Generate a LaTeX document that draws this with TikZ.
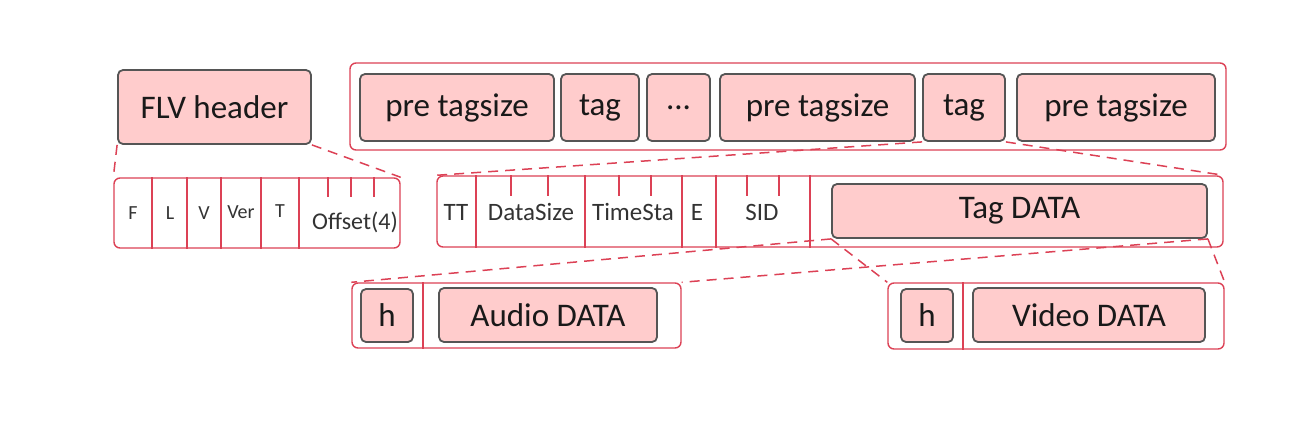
\documentclass[tikz,border=0pt]{standalone}
\usepackage{fontspec}
\setmainfont{Carlito}
\usepackage{tikz}

\definecolor{boxpink}{RGB}{255,204,204}
\definecolor{boxgray}{RGB}{85,85,85}
\definecolor{linered}{RGB}{220,65,85}

\tikzset{
  databox/.style={draw=boxgray, fill=boxpink, line width=1.8pt, rounded corners=5pt,
    inner sep=0pt, text=black!90, font=\fontsize{33}{36}\selectfont},
  frame/.style={draw=linered, line width=1.4pt, rounded corners=6pt, inner sep=0pt},
  sep/.style={linered, line width=1.4pt},
  zoomline/.style={linered, line width=1.5pt, dash pattern=on 10pt off 7pt},
  small/.style={inner sep=0pt, text=black!80, font=\fontsize{20}{24}\selectfont},
  field/.style={inner sep=0pt, text=black!80, font=\fontsize{25}{28}\selectfont}
}

\begin{document}
\begin{tikzpicture}[x=1pt,y=-1pt]
\useasboundingbox (0,0) rectangle (1309,424);

% file header
\node [databox, minimum width=193pt, minimum height=74pt] (flv) at (214.5,107) {FLV header};
\node [frame, minimum width=286pt, minimum height=70pt] (hdr) at (257,213) {};
\draw [sep] (hdr.north -| 152,0) -- (hdr.south -| 152,0);
\draw [sep] (hdr.north -| 187,0) -- (hdr.south -| 187,0);
\draw [sep] (hdr.north -| 221,0) -- (hdr.south -| 221,0);
\draw [sep] (hdr.north -| 261,0) -- (hdr.south -| 261,0);
\draw [sep] (hdr.north -| 299,0) -- (hdr.south -| 299,0);
\draw [sep] (hdr.north -| 328,0) -- (328,197);
\draw [sep] (hdr.north -| 351,0) -- (351,197);
\draw [sep] (hdr.north -| 374,0) -- (374,197);
\node [small] (hF) at (133,213) {F};
\node [small] (hL) at (170,213) {L};
\node [small] (hV) at (204,213) {V};
\node [small] (hVer) at (241,212) {Ver};
\node [small] (hT) at (280,211) {T};
\node [field, font=\fontsize{24}{28}\selectfont] (hOff) at (355,222) {Offset(4)};

% file body
\node [frame, minimum width=876pt, minimum height=87pt] (body) at (788,106.5) {};
\node [databox, minimum width=194pt, minimum height=67pt] (pre1) at (457,107.5) {pre tagsize};
\node [databox, minimum width=78pt, minimum height=67pt] (tag1) at (600,107.5) {tag};
\node [databox, minimum width=63pt, minimum height=67pt] (dots) at (678.5,107.5) {...};
\node [databox, minimum width=195pt, minimum height=67pt] (pre2) at (817.5,107.5) {pre tagsize};
\node [databox, minimum width=82pt, minimum height=67pt] (tag2) at (964,107.5) {tag};
\node [databox, minimum width=198pt, minimum height=67pt] (pre3) at (1116,107.5) {pre tagsize};

% tag
\node [frame, minimum width=786pt, minimum height=71pt] (tf) at (830,211.5) {};
\draw [sep] (tf.north -| 476,0) -- (tf.south -| 476,0);
\draw [sep] (tf.north -| 585,0) -- (tf.south -| 585,0);
\draw [sep] (tf.north -| 682,0) -- (tf.south -| 682,0);
\draw [sep] (tf.north -| 716,0) -- (tf.south -| 716,0);
\draw [sep] (tf.north -| 810,0) -- (tf.south -| 810,0);
\draw [sep] (tf.north -| 511,0) -- (511,196);
\draw [sep] (tf.north -| 548,0) -- (548,196);
\draw [sep] (tf.north -| 619,0) -- (619,196);
\draw [sep] (tf.north -| 651,0) -- (651,196);
\draw [sep] (tf.north -| 747,0) -- (747,196);
\draw [sep] (tf.north -| 779,0) -- (779,196);
\node [field] (tTT) at (456,212) {TT};
\node [field] (tSize) at (531,212) {DataSize};
\node [field] (tTime) at (633,212) {TimeSta};
\node [field] (tE) at (697,212) {E};
\node [field] (tSID) at (762,212) {SID};
\node [databox, minimum width=375pt, minimum height=54pt] (tagdata) at (1019.5,211) {Tag DATA};

% audio and video
\node [frame, minimum width=329pt, minimum height=65pt] (audio) at (516.5,315.5) {};
\node [databox, minimum width=52pt, minimum height=53pt] (ah) at (387,315.5) {h};
\draw [sep] (audio.north -| 423,0) -- (audio.south -| 423,0);
\node [databox, minimum width=218pt, minimum height=54pt] (adata) at (548,315) {Audio DATA};

\node [frame, minimum width=336pt, minimum height=66pt] (video) at (1056,316) {};
\node [databox, minimum width=52pt, minimum height=53pt] (vh) at (927,315.5) {h};
\draw [sep] (video.north -| 963,0) -- (video.south -| 963,0);
\node [databox, minimum width=232pt, minimum height=54pt] (vdata) at (1089,315) {Video DATA};

% zoom lines
\draw [zoomline] (flv.south west) -- (hdr.north west);
\draw [zoomline] (flv.south east) -- (hdr.north east);
\draw [zoomline] (tag2.south west) -- (tf.north west);
\draw [zoomline] (tag2.south east) -- (tf.north east);
\draw [zoomline] (tagdata.south west) -- (audio.north west);
\draw [zoomline] (tagdata.south east) -- (audio.north east);
\draw [zoomline] (tagdata.south west) -- (video.north west);
\draw [zoomline] (tagdata.south east) -- (video.north east);
\end{tikzpicture}
\end{document}
